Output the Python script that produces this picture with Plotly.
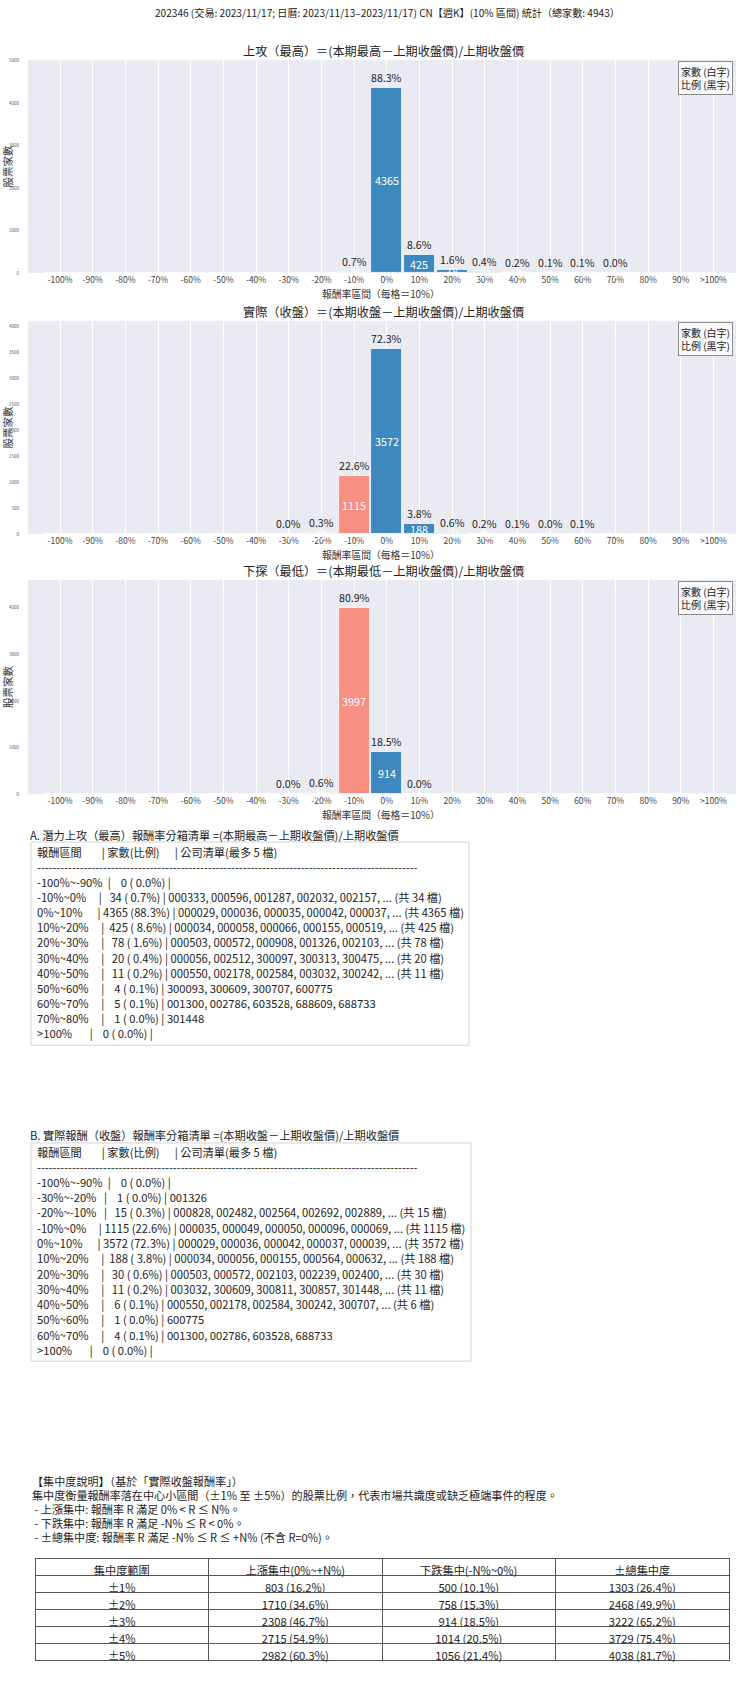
import plotly.graph_objects as go

W, H = 740, 1690
FONT = "Noto Sans CJK TC, Noto Sans CJK SC, Noto Sans, sans-serif"
TOTAL = 4943

# ---------------- data ----------------
categories = ["-100%", "-90%", "-80%", "-70%", "-60%", "-50%", "-40%", "-30%", "-20%", "-10%",
              "0%", "10%", "20%", "30%", "40%", "50%", "60%", "70%", "80%", "90%", ">100%"]
high_counts = [0, 0, 0, 0, 0, 0, 0, 0, 0, 34, 4365, 425, 78, 20, 11, 4, 5, 1, 0, 0, 0]
close_counts = [0, 0, 0, 0, 0, 0, 0, 1, 15, 1115, 3572, 188, 30, 11, 6, 1, 4, 0, 0, 0, 0]
low_counts = [0, 0, 0, 0, 0, 0, 0, 1, 30, 3997, 914, 1, 0, 0, 0, 0, 0, 0, 0, 0, 0]

chart_titles = ["上攻（最高）＝(本期最高－上期收盤價)/上期收盤價",
                "實際（收盤）＝(本期收盤－上期收盤價)/上期收盤價",
                "下探（最低）＝(本期最低－上期收盤價)/上期收盤價"]

high_bins = ["-100%~-90%", "-10%~0%", "0%~10%", "10%~20%", "20%~30%", "30%~40%",
             "40%~50%", "50%~60%", "60%~70%", "70%~80%", ">100%"]
high_bin_counts = [0, 34, 4365, 425, 78, 20, 11, 4, 5, 1, 0]
high_bin_codes = [
    [],
    ["000333", "000596", "001287", "002032", "002157"],
    ["000029", "000036", "000035", "000042", "000037"],
    ["000034", "000058", "000066", "000155", "000519"],
    ["000503", "000572", "000908", "001326", "002103"],
    ["000056", "002512", "300097", "300313", "300475"],
    ["000550", "002178", "002584", "003032", "300242"],
    ["300093", "300609", "300707", "600775"],
    ["001300", "002786", "603528", "688609", "688733"],
    ["301448"],
    [],
]

close_bins = ["-100%~-90%", "-30%~-20%", "-20%~-10%", "-10%~0%", "0%~10%", "10%~20%",
              "20%~30%", "30%~40%", "40%~50%", "50%~60%", "60%~70%", ">100%"]
close_bin_counts = [0, 1, 15, 1115, 3572, 188, 30, 11, 6, 1, 4, 0]
close_bin_codes = [
    [],
    ["001326"],
    ["000828", "002482", "002564", "002692", "002889"],
    ["000035", "000049", "000050", "000096", "000069"],
    ["000029", "000036", "000042", "000037", "000039"],
    ["000034", "000056", "000155", "000564", "000632"],
    ["000503", "000572", "002103", "002239", "002400"],
    ["003032", "300609", "300811", "300857", "301448"],
    ["000550", "002178", "002584", "300242", "300707"],
    ["600775"],
    ["001300", "002786", "603528", "688733"],
    [],
]

conc_ranges = ["±1%", "±2%", "±3%", "±4%", "±5%"]
conc_up = [803, 1710, 2308, 2715, 2982]
conc_down = [500, 758, 914, 1014, 1056]
conc_total = [1303, 2468, 3222, 3729, 4038]
conc_headers = ["集中度範圍", "上漲集中(0%~+N%)", "下跌集中(-N%~0%)", "±總集中度"]

main_title = "202346 (交易: 2023/11/17; 日曆: 2023/11/13–2023/11/17) CN【週K】(10% 區間) 統計（總家數: 4943）"
conc_lines = [
    "【集中度說明】（基於「實際收盤報酬率」）",
    "集中度衡量報酬率落在中心小區間（±1% 至 ±5%）的股票比例，代表市場共識度或缺乏極端事件的程度。",
    " - 上漲集中: 報酬率 R 滿足 0% < R ≤ N%。",
    " - 下跌集中: 報酬率 R 滿足 -N% ≤ R < 0%。",
    " - ±總集中度: 報酬率 R 滿足 -N% ≤ R ≤ +N% (不含 R=0%)。",
]

# ---------------- helpers ----------------
BLUE = "#3D88BE"
SALMON = "#F79083"


def px(y):
    return 1 - y / H


def nb(s):
    return s.replace(" ", "\u00a0")


fig = go.Figure()
annotations = []
shapes = []
layout_axes = {}

plot_boxes = [(57, 271), (319, 533), (579, 794)]
series = [high_counts, close_counts, low_counts]
dticks = [1000, 500, 1000]
X0, X1 = 28, 736

for i, counts in enumerate(series):
    top, bot = plot_boxes[i]
    xa = "x" if i == 0 else f"x{i + 1}"
    ya = "y" if i == 0 else f"y{i + 1}"
    colors = [SALMON if c.startswith("-") else BLUE for c in categories]
    fig.add_trace(go.Bar(
        x=categories, y=counts, width=0.95,
        marker=dict(color=colors, line=dict(color="white", width=0.8)),
        xaxis=xa, yaxis=ya, showlegend=False, hoverinfo="skip"))
    ymax = max(counts) * 1.15
    layout_axes["xaxis" if i == 0 else f"xaxis{i + 1}"] = dict(
        domain=[X0 / W, X1 / W], anchor=ya, type="category",
        categoryorder="array", categoryarray=categories,
        range=[-0.98, 20.69], showgrid=True, gridcolor="white", gridwidth=1,
        zeroline=False, showline=False, ticks="",
        tickmode="array", tickvals=categories, ticktext=categories,
        tickangle=0, tickfont=dict(size=8.5, color="#444", family=FONT))
    layout_axes["yaxis" if i == 0 else f"yaxis{i + 1}"] = dict(
        domain=[px(bot), px(top)], anchor=xa, range=[0, ymax],
        dtick=dticks[i], tick0=0, showgrid=False, zeroline=False, showline=False,
        ticks="outside", ticklen=7, tickcolor="rgba(0,0,0,0)",
        tickfont=dict(size=4.5, color="#555", family=FONT))

    for c, v in zip(categories, counts):
        if v <= 0:
            continue
        annotations.append(dict(
            x=c, y=v, xref=xa, yref=ya, text=f"{v / TOTAL * 100:.1f}%",
            showarrow=False, yanchor="bottom", yshift=1,
            font=dict(size=10.6, color="#222", family=FONT)))
        annotations.append(dict(
            x=c, y=v / 2, xref=xa, yref=ya, text=str(v),
            showarrow=False, yanchor="middle",
            font=dict(size=10.8, color="white", family=FONT)))

    # subplot title
    annotations.append(dict(
        x=383 / W, y=px(top - 9), xref="paper", yref="paper", text=chart_titles[i],
        showarrow=False, xanchor="center", yanchor="middle",
        font=dict(size=12.2, color="#222", family=FONT)))
    # y title
    annotations.append(dict(
        x=7 / W, y=px((top + bot) / 2), xref="paper", yref="paper", text="股票家數",
        showarrow=False, textangle=-90, xanchor="center", yanchor="middle",
        font=dict(size=10.5, color="#333", family=FONT)))
    # x title
    annotations.append(dict(
        x=381 / W, y=px(bot + 21), xref="paper", yref="paper", text="報酬率區間（每格＝10%）",
        showarrow=False, xanchor="center", yanchor="middle",
        font=dict(size=9.8, color="#333", family=FONT)))
    # legend box
    annotations.append(dict(
        x=733 / W, y=px(top + 1), xref="paper", yref="paper",
        text="家數 (白字)<br>比例 (黑字)", showarrow=False, align="left",
        xanchor="right", yanchor="top", bordercolor="#8a8a8a", borderwidth=1,
        borderpad=2, bgcolor="rgba(255,255,255,0.75)",
        font=dict(size=10, color="#222", family=FONT)))

# main title
annotations.append(dict(
    x=387 / W, y=px(10), xref="paper", yref="paper", text=main_title,
    showarrow=False, xanchor="center", yanchor="middle",
    font=dict(size=10.1, color="#222", family=FONT)))


def fmt_row(label, count, codes):
    s = f"{label:<12}|{count:>5} ({count / TOTAL * 100:4.1f}%) | "
    if codes:
        s += ", ".join(codes)
        if count > len(codes):
            s += f", ... (共 {count} 檔)"
    return s


header_line = "報酬區間        | 家數(比例)      | 公司清單(最多 5 檔)"
dash_line = "-" * 98

TXT = 11.2


def text_block(title, title_y, box, header_y, dash_y, first_y, step, bins, counts, codes):
    x_left, y_top, x_right, y_bot = box
    shapes.append(dict(type="rect", xref="paper", yref="paper",
                       x0=x_left / W, x1=x_right / W, y0=px(y_bot), y1=px(y_top),
                       line=dict(color="#d4d4d4", width=1), fillcolor="white", layer="below"))
    annotations.append(dict(x=28 / W, y=px(title_y), xref="paper", yref="paper",
                            text=nb(title), showarrow=False, xanchor="left", yanchor="middle",
                            font=dict(size=TXT, color="#222", family=FONT)))
    lines = [(header_y, header_line), (dash_y, dash_line)]
    for k, (b, c, cd) in enumerate(zip(bins, counts, codes)):
        lines.append((first_y + k * step, fmt_row(b, c, cd)))
    for yy, t in lines:
        annotations.append(dict(x=35 / W, y=px(yy), xref="paper", yref="paper",
                                text=nb(t), showarrow=False, xanchor="left", yanchor="middle",
                                font=dict(size=TXT, color="#222", family=FONT)))


text_block("A. 潛力上攻（最高）報酬率分箱清單 =(本期最高－上期收盤價)/上期收盤價", 835,
           (31, 842, 469, 1046), 852, 867, 882, 15.2,
           high_bins, high_bin_counts, high_bin_codes)
text_block("B. 實際報酬（收盤）報酬率分箱清單 =(本期收盤－上期收盤價)/上期收盤價", 1136,
           (31, 1144, 471, 1363), 1153, 1168, 1183, 15.35,
           close_bins, close_bin_counts, close_bin_codes)

for k, t in enumerate(conc_lines):
    annotations.append(dict(x=30 / W, y=px(1483 + 14 * k), xref="paper", yref="paper",
                            text=nb(t), showarrow=False, xanchor="left", yanchor="middle",
                            font=dict(size=11.1, color="#222", family=FONT)))


def fmt_cell(v):
    return f"{v} ({v / TOTAL * 100:.1f}%)"


fig.add_trace(go.Table(
    domain=dict(x=[35 / W, 729 / W], y=[px(1666), px(1561)]),
    columnwidth=[1, 1, 1, 1],
    header=dict(values=conc_headers, height=17, align="center",
                line=dict(color="#555", width=1), fill=dict(color="white"),
                font=dict(size=11.2, color="#222", family=FONT)),
    cells=dict(values=[conc_ranges,
                       [fmt_cell(v) for v in conc_up],
                       [fmt_cell(v) for v in conc_down],
                       [fmt_cell(v) for v in conc_total]],
               height=17, align="center",
               line=dict(color="#555", width=1), fill=dict(color="white"),
               font=dict(size=11.2, color="#222", family=FONT)),
))

fig.update_layout(
    width=W, height=H, autosize=False,
    margin=dict(l=0, r=0, t=0, b=0),
    paper_bgcolor="white", plot_bgcolor="#EAEAF2",
    bargap=0, showlegend=False,
    annotations=annotations, shapes=shapes,
    font=dict(family=FONT, color="#222"),
    **layout_axes,
)

fig.write_html(
    "out.html",
    config={"displayModeBar": False},
    post_script="document.documentElement.style.margin='0';document.documentElement.style.overflow='hidden';"
                "document.body.style.margin='0';document.body.style.overflow='hidden';",
)
